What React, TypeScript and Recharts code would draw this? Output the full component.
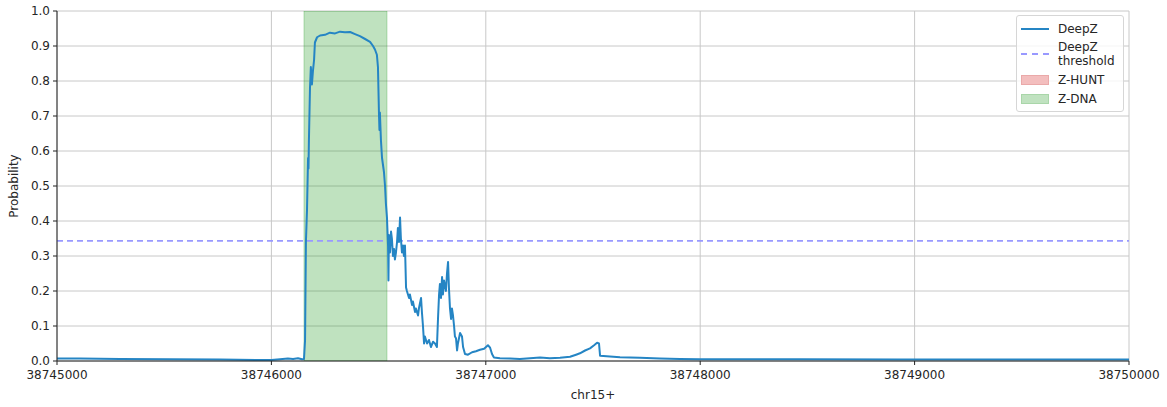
import React from 'react';
import {
  ComposedChart,
  Line,
  XAxis,
  YAxis,
  CartesianGrid,
  ReferenceArea,
  ReferenceLine,
} from 'recharts';

// genomic positions along chr15 (+ strand)
const positions = [
  38745000, 38745107, 38745294, 38745527, 38745760, 38745947, 38746000, 38746040, 38746077, 38746101,
  38746124, 38746143, 38746152, 38746157, 38746161, 38746166, 38746171, 38746173, 38746175, 38746180,
  38746184, 38746189, 38746194, 38746199, 38746203, 38746213, 38746227, 38746250, 38746273, 38746297,
  38746320, 38746343, 38746367, 38746390, 38746413, 38746437, 38746460, 38746474, 38746483, 38746492,
  38746497, 38746502, 38746504, 38746506, 38746511, 38746516, 38746525, 38746530, 38746534, 38746539,
  38746544, 38746546, 38746548, 38746553, 38746558, 38746562, 38746567, 38746572, 38746576, 38746581,
  38746586, 38746590, 38746595, 38746600, 38746604, 38746609, 38746614, 38746618, 38746623, 38746628,
  38746632, 38746642, 38746646, 38746656, 38746660, 38746670, 38746674, 38746684, 38746688, 38746698,
  38746702, 38746707, 38746712, 38746716, 38746726, 38746735, 38746744, 38746754, 38746763, 38746772,
  38746777, 38746782, 38746786, 38746791, 38746796, 38746800, 38746805, 38746814, 38746819, 38746824,
  38746828, 38746833, 38746838, 38746842, 38746847, 38746852, 38746856, 38746861, 38746866, 38746870,
  38746880, 38746889, 38746894, 38746903, 38746917, 38746936, 38746954, 38746973, 38746992, 38747010,
  38747020, 38747029, 38747038, 38747066, 38747113, 38747159, 38747206, 38747253, 38747299, 38747346,
  38747393, 38747421, 38747439, 38747463, 38747486, 38747505, 38747519, 38747528, 38747533, 38747579,
  38747626, 38747719, 38747812, 38747906, 38747999, 38748465, 38748932, 38749398, 38750000,
];

// DeepZ probability at each position
const deepzProb = [
  0.007, 0.007, 0.006, 0.005, 0.004, 0.003, 0.003, 0.005, 0.007, 0.006,
  0.008, 0.005, 0.006, 0.06, 0.34, 0.43, 0.58, 0.55, 0.63, 0.78,
  0.84, 0.79, 0.83, 0.86, 0.91, 0.925, 0.93, 0.932, 0.938, 0.936,
  0.941, 0.939, 0.94, 0.934, 0.928, 0.92, 0.912, 0.9, 0.89, 0.875,
  0.84, 0.7, 0.66, 0.71, 0.63, 0.58, 0.54, 0.5, 0.45, 0.41,
  0.33, 0.23, 0.36, 0.31, 0.37, 0.35, 0.3, 0.32, 0.29, 0.31,
  0.34, 0.38, 0.34, 0.41, 0.35, 0.31, 0.33, 0.3, 0.33, 0.21,
  0.2, 0.18, 0.19, 0.16, 0.17, 0.14, 0.15, 0.13, 0.15, 0.18,
  0.14, 0.1, 0.05, 0.07, 0.05, 0.06, 0.04, 0.055, 0.05, 0.04,
  0.12, 0.19, 0.22, 0.18, 0.24, 0.19, 0.23, 0.2, 0.25, 0.283,
  0.21, 0.15, 0.12, 0.15, 0.13, 0.1, 0.07, 0.065, 0.03, 0.05,
  0.08, 0.07, 0.04, 0.02, 0.018, 0.025, 0.028, 0.032, 0.035, 0.045,
  0.038, 0.02, 0.01, 0.008, 0.007, 0.006, 0.008, 0.01, 0.008, 0.009,
  0.012, 0.018, 0.022, 0.03, 0.036, 0.045, 0.052, 0.05, 0.015, 0.013,
  0.011, 0.009, 0.007, 0.006, 0.005, 0.005, 0.004, 0.004, 0.004,
];

const xTicks = [38745000, 38746000, 38747000, 38748000, 38749000, 38750000];
const yTicks = [0, 0.1, 0.2, 0.3, 0.4, 0.5, 0.6, 0.7, 0.8, 0.9, 1.0];

const deepzThreshold = 0.343;
const zdnaStart = 38746152;
const zdnaEnd = 38746539;

const data = positions.map((pos, i) => ({ pos, deepz: deepzProb[i] }));

const FONT = 'DejaVu Sans, sans-serif';
const TEXT = '#262626';
const LINE = '#2585c4';

const legendRow: React.CSSProperties = { display: 'flex', alignItems: 'center', height: 19 };
const swatch: React.CSSProperties = { width: 28, marginRight: 9, flexShrink: 0 };

const ChartLegend = () => (
  <div
    style={{
      position: 'absolute',
      left: 1016,
      top: 15,
      width: 108,
      height: 97,
      boxSizing: 'border-box',
      border: '1px solid #d6d6d6',
      borderRadius: 3,
      background: 'rgba(255,255,255,0.8)',
      fontFamily: FONT,
      fontSize: 12,
      color: TEXT,
      padding: '3px 0 0 4px',
      lineHeight: '14px',
    }}
  >
    <div style={legendRow}>
      <div style={{ ...swatch, borderTop: `2px solid ${LINE}` }} />
      <span>DeepZ</span>
    </div>
    <div style={{ ...legendRow, height: 32 }}>
      <div style={{ ...swatch, borderTop: '2px dashed #9999ff' }} />
      <span>DeepZ<br />threshold</span>
    </div>
    <div style={legendRow}>
      <div style={{ ...swatch, height: 10, background: '#f3bebe', border: '1px solid #eaa9a9', boxSizing: 'border-box' }} />
      <span>Z-HUNT</span>
    </div>
    <div style={legendRow}>
      <div style={{ ...swatch, height: 10, background: '#c0e2c0', border: '1px solid #a9d6a9', boxSizing: 'border-box' }} />
      <span>Z-DNA</span>
    </div>
  </div>
);

export default function App() {
  return (
    <div style={{ position: 'absolute', left: 0, top: 0, width: 1167, height: 407 }}>
      <ComposedChart
        width={1167}
        height={407}
        data={data}
        margin={{ top: 11, right: 38, left: 0, bottom: 0 }}
      >
        <CartesianGrid stroke="#c8c8c8" strokeWidth={1} />
        <ReferenceArea
          x1={zdnaStart}
          x2={zdnaEnd}
          y1={0}
          y2={1}
          fill="#2ca02c"
          fillOpacity={0.3}
          stroke="#2ca02c"
          strokeOpacity={0.3}
          ifOverflow="hidden"
        />
        <XAxis
          dataKey="pos"
          type="number"
          domain={[38745000, 38750000]}
          ticks={xTicks}
          allowDataOverflow
          height={46}
          tickSize={4}
          tickMargin={5}
          stroke="#222"
          tick={{ fill: TEXT, fontSize: 12, fontFamily: FONT }}
          tickFormatter={(v: number) => String(v)}
          label={{
            content: ({ viewBox }: any) => (
              <text
                x={viewBox.x + viewBox.width / 2}
                y={399}
                textAnchor="middle"
                fontSize={12}
                fontFamily={FONT}
                fill={TEXT}
              >
                chr15+
              </text>
            ),
          }}
        />
        <XAxis xAxisId="top" orientation="top" height={0} tick={false} tickLine={false} stroke="#222" />
        <YAxis
          type="number"
          domain={[0, 1]}
          ticks={yTicks}
          allowDataOverflow
          width={57}
          tickSize={4}
          tickMargin={3}
          stroke="#222"
          tick={{ fill: TEXT, fontSize: 12, fontFamily: FONT }}
          tickFormatter={(v: number) => v.toFixed(1)}
          label={{
            content: ({ viewBox }: any) => {
              const cx = 14;
              const cy = viewBox.y + viewBox.height / 2;
              return (
                <text
                  x={cx}
                  y={cy}
                  transform={`rotate(-90 ${cx} ${cy})`}
                  textAnchor="middle"
                  dominantBaseline="central"
                  fontSize={12}
                  fontFamily={FONT}
                  fill={TEXT}
                >
                  Probability
                </text>
              );
            },
          }}
        />
        <YAxis yAxisId="right" orientation="right" width={0} tick={false} tickLine={false} stroke="#222" />
        <ReferenceLine
          y={deepzThreshold}
          stroke="#9999ff"
          strokeWidth={1.8}
          strokeDasharray="6 4"
        />
        <Line
          type="linear"
          dataKey="deepz"
          stroke={LINE}
          strokeWidth={2}
          strokeLinejoin="round"
          dot={false}
          isAnimationActive={false}
        />
      </ComposedChart>
      <ChartLegend />
    </div>
  );
}
